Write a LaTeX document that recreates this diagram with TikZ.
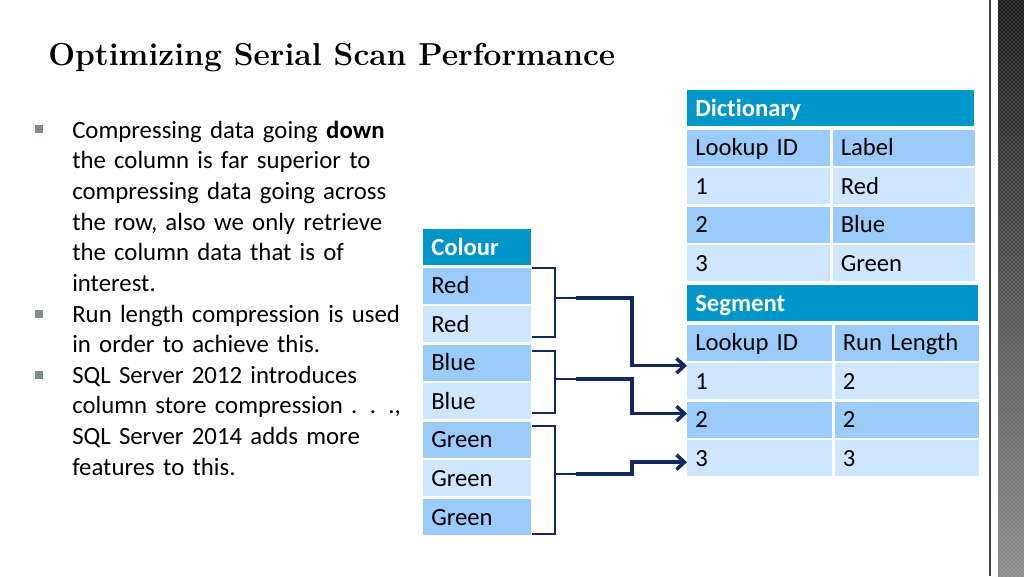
\documentclass[tikz,border=0pt]{standalone}
\usepackage{fontspec}
\setmainfont{Carlito}[Ligatures=NoCommon]
\newfontfamily\titlefamily{Latin Modern Roman}
\usetikzlibrary{positioning,arrows.meta,patterns}

\definecolor{headblue}{RGB}{0,150,201}
\definecolor{rowdark}{RGB}{155,203,250}
\definecolor{rowlight}{RGB}{206,231,255}
\definecolor{navy}{RGB}{18,40,100}
\definecolor{bulletgrey}{RGB}{125,140,140}

\begin{document}
\begin{tikzpicture}[x=0.75pt,y=-0.75pt,node distance=1.5pt,
    cell/.style={minimum height=27pt,inner xsep=6pt,inner ysep=0pt,
                 text height=13pt,text depth=1pt,align=left,
                 font=\fontsize{18.5}{21}\selectfont},
    head cell/.style={cell,fill=headblue,text=white,
                      font=\fontsize{18.5}{21}\selectfont\bfseries},
    dark cell/.style={cell,fill=rowdark},
    light cell/.style={cell,fill=rowlight},
    body/.style={inner sep=0pt,anchor=base west,align=left,text width=340pt,
                 font=\fontsize{18.6}{23}\selectfont},
    bullet/.style={fill=bulletgrey,minimum size=6pt,inner sep=0pt},
    bracket/.style={navy,line width=1.5pt},
    link/.style={navy,line width=2.6pt,-{Straight Barb[length=6pt,width=11pt]}}]

  \fill[white] (0,0) rectangle (1024,576);
  \useasboundingbox (0,0) rectangle (1024,576);

  % side strip
  \draw[line width=1.5pt,black!75] (990,0) -- (990,576);
  \shade[top color=black!92,bottom color=black!45] (998,0) rectangle (1024,576);
  \fill[pattern=crosshatch dots,pattern color=black!30] (998,0) rectangle (1024,576);

  \node[inner sep=0pt,anchor=base west,font=\titlefamily\fontsize{23.8}{26}\selectfont\bfseries]
    (title) at (48,65) {Optimizing Serial Scan Performance};

  % bullet text
  \node[bullet] (b1) at (39,129) {};
  \node[bullet] (b2) at (39,314) {};
  \node[bullet] (b3) at (39,375) {};
  \node[body] (p1) at (72,138) {Compressing data going \textbf{down}\\
    the column is far superior to\\ compressing data going across\\
    the row, also we only retrieve\\ the column data that is of\\ interest.};
  \node[body] (p2) at (72,322) {Run length compression is used\\ in order to achieve this.};
  \node[body] (p3) at (72,383) {SQL Server 2012 introduces\\
    column store compression . . .,\\ SQL Server 2014 adds more\\ features to this.};

  % colour column
  \node[head cell,text width=69pt,anchor=north west] (c0) at (423,229) {Colour};
  \node[dark cell,text width=69pt] (c1) [below=of c0] {Red};
  \node[light cell,text width=69pt] (c2) [below=of c1] {Red};
  \node[dark cell,text width=69pt] (c3) [below=of c2] {Blue};
  \node[light cell,text width=69pt] (c4) [below=of c3] {Blue};
  \node[dark cell,text width=69pt] (c5) [below=of c4] {Green};
  \node[light cell,text width=69pt] (c6) [below=of c5] {Green};
  \node[dark cell,text width=69pt] (c7) [below=of c6] {Green};

  % dictionary
  \node[head cell,text width=203.25pt,anchor=north west] (d0) at (687,90) {Dictionary};
  \node[dark cell,text width=95.25pt,anchor=north west] (d1) at ([yshift=-2.25pt]d0.south west) {Lookup ID};
  \node[dark cell,text width=94.5pt] (d2) [right=of d1] {Label};
  \node[light cell,text width=95.25pt] (d3) [below=of d1] {1};
  \node[light cell,text width=94.5pt] (d4) [below=of d2] {Red};
  \node[dark cell,text width=95.25pt] (d5) [below=of d3] {2};
  \node[dark cell,text width=94.5pt] (d6) [below=of d4] {Blue};
  \node[light cell,text width=95.25pt] (d7) [below=of d5] {3};
  \node[light cell,text width=94.5pt] (d8) [below=of d6] {Green};

  % segment
  \node[head cell,text width=206.25pt,anchor=north west] (s0) at (687,285) {Segment};
  \node[dark cell,text width=96.75pt,anchor=north west] (s1) at ([yshift=-2.25pt]s0.south west) {Lookup ID};
  \node[dark cell,text width=96pt] (s2) [right=of s1] {Run Length};
  \node[light cell,text width=96.75pt] (s3) [below=of s1] {1};
  \node[light cell,text width=96pt] (s4) [below=of s2] {2};
  \node[dark cell,text width=96.75pt] (s5) [below=of s3] {2};
  \node[dark cell,text width=96pt] (s6) [below=of s4] {2};
  \node[light cell,text width=96.75pt] (s7) [below=of s5] {3};
  \node[light cell,text width=96pt] (s8) [below=of s6] {3};

  % brackets
  \draw[bracket] (c1.north east) -- ++(23,0) |- ([yshift=4.5pt]c2.south east);
  \draw[bracket] ([yshift=-4.5pt]c3.north east) -- ++(23,0) |- ([yshift=5.25pt]c4.south east);
  \draw[bracket] ([yshift=-3pt]c5.north east) -- ++(23,0) |- ([yshift=1pt]c7.south east);

  \coordinate (m1) at (576,298);
  \coordinate (m2) at (576,379);
  \coordinate (m3) at (576,474);
  \coordinate (a1) at ([yshift=-2pt]s3.north west);
  \coordinate (a2) at ([yshift=-9pt]s5.north west);
  \coordinate (a3) at ([yshift=-16.5pt]s7.north west);

  \draw[bracket] (m1) -- ++(-22,0);
  \draw[bracket] (m2) -- ++(-22,0);
  \draw[bracket] (m3) -- ++(-22,0);

  \draw[link] (m1) -- ++(56,0) |- (a1);
  \draw[link] (m2) -- ++(56,0) |- (a2);
  \draw[link] (m3) -- ++(56,0) |- (a3);

\end{tikzpicture}
\end{document}
